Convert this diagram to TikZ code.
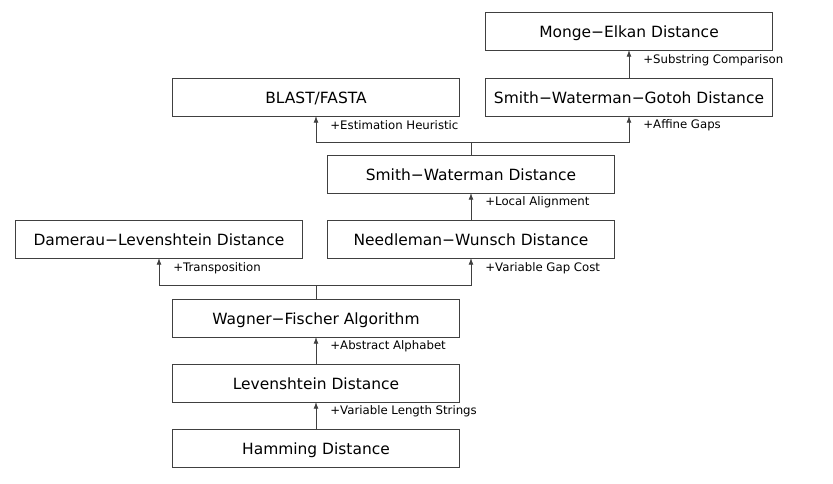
\documentclass[tikz,border=0pt]{standalone}
\usepackage{fontspec}
\setmainfont{DejaVu Sans}
\usepackage{tikz}
\usetikzlibrary{arrows.meta, positioning, calc}

\begin{document}
\begin{tikzpicture}[
    font=\fontsize{11.6}{14}\selectfont,
    algo/.style={draw=black!75, line width=0.6pt, rectangle, outer sep=0pt,
                 minimum width=215pt, minimum height=28.5pt, inner sep=0pt,
                 text height=10.5pt, text depth=0pt},
    herencia/.style={draw=black!75, line width=0.6pt,
                     -{Latex[length=5pt, width=3.6pt]}},
    nota/.style={font=\fontsize{8.8}{10}\selectfont, inner sep=0pt,
                 anchor=west, xshift=10.5pt}
  ]

  % --- Columna central: de Hamming a Wagner-Fischer ---
  \node[algo] (hamming) {Hamming Distance};
  \node[algo, above=20.25pt of hamming] (levenshtein) {Levenshtein Distance};
  \node[algo, above=20.25pt of levenshtein] (wagner) {Wagner−Fischer Algorithm};

  % --- Fila de variantes ---
  \node[algo, above=30.75pt of wagner, xshift=-117.75pt] (damerau) {Damerau−Levenshtein Distance};
  \node[algo, above=30.75pt of wagner, xshift=116.25pt] (needleman) {Needleman−Wunsch Distance};
  \node[algo, above=20.25pt of needleman] (smithw) {Smith−Waterman Distance};

  % --- Fila superior ---
  \node[algo, above=29.25pt of smithw, xshift=-116.25pt] (blast) {BLAST/FASTA};
  \node[algo, above=29.25pt of smithw, xshift=118.5pt] (gotoh) {Smith−Waterman−Gotoh Distance};
  \node[algo, above=21pt of gotoh] (monge) {Monge−Elkan Distance};

  \useasboundingbox ($(hamming.center)+(-237pt,-27pt)$) rectangle ($(hamming.center)+(387.75pt,336pt)$);

  % Flechas rectas
  \draw[herencia] (hamming) -- node[nota, pos=0.67] {+Variable Length Strings} (levenshtein);
  \draw[herencia] (levenshtein) -- node[nota, pos=0.67] {+Abstract Alphabet} (wagner);
  \draw[herencia] (needleman) -- node[nota, pos=0.64] {+Local Alignment} (smithw);
  \draw[herencia] (gotoh) -- node[nota, pos=0.64] {+Substring Comparison} (monge);

  % Bifurcaciones
  \draw[herencia] (wagner.north) -- ++(0,10.5pt) -| node[nota, pos=0.815] {+Transposition} (damerau.south);
  \draw[herencia] (wagner.north) -- ++(0,10.5pt) -| node[nota, pos=0.815] {+Variable Gap Cost} (needleman.south);
  \draw[herencia] (smithw.north) -- ++(0,9.75pt) -| node[nota, pos=0.83] {+Estimation Heuristic} (blast.south);
  \draw[herencia] (smithw.north) -- ++(0,9.75pt) -| node[nota, pos=0.83] {+Affine Gaps} (gotoh.south);
\end{tikzpicture}
\end{document}
